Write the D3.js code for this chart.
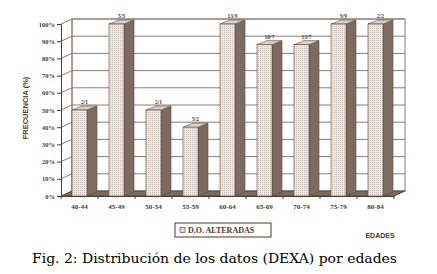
<!DOCTYPE html>
<html>
<head>
<meta charset="utf-8">
<script src="https://cdn.jsdelivr.net/npm/d3@7"></script>
<style>
  body { margin: 0; background: #fff; }
  svg { display: block; }
</style>
</head>
<body>
<div id="container"></div>
<script>
/* CONSTANTS AND GLOBALS */
const width = 437;
const height = 274;

// data
const categories = ["40-44", "45-49", "50-54", "55-59", "60-64", "65-69", "70-74", "75-79", "80-84"];
const values = [50, 100, 50, 40, 100, 88, 88, 100, 100];
const barLabels = ["2/1", "5/5", "2/1", "5/2", "13/9", "10/7", "13/7", "9/9", "2/2"];
const yTicks = [0, 10, 20, 30, 40, 50, 60, 70, 80, 90, 100];

// 3d depth offset of the back wall
const dx = 11, dy = -5;
const ink = "#4a3a32";
const gridCol = "#8c7c72";

const svg = d3.select("#container")
    .append("svg")
    .attr("width", width)
    .attr("height", height)

// dotted pattern for the front of the bars
const defs = svg.append("defs")
const pat = defs.append("pattern")
    .attr("id", "dots")
    .attr("width", 2)
    .attr("height", 2)
    .attr("patternUnits", "userSpaceOnUse")
pat.append("rect").attr("width", 2).attr("height", 2).attr("fill", "#ebe7e4")
pat.append("rect").attr("width", 1).attr("height", 1).attr("fill", "#c9c0ba")

/* SCALES */
const xScale = d3.scaleBand()
    .domain(categories)
    .range([61, 394])

const yScale = d3.scaleLinear()
    .domain([0, 100])
    .range([196, 24])

const x0 = xScale.range()[0], x1 = xScale.range()[1];

// back wall
svg.append("rect")
    .attr("x", x0 + dx)
    .attr("y", yScale(100) + dy)
    .attr("width", x1 - x0)
    .attr("height", yScale(0) - yScale(100))
    .attr("fill", "#fff")
    .attr("stroke", gridCol)

// floor (dark, like the reference)
svg.append("path")
    .attr("d", `M${x0},${yScale(0)} L${x1},${yScale(0)} L${x1 + dx},${yScale(0) + dy} L${x0 + dx},${yScale(0) + dy} Z`)
    .attr("fill", "#7d6a60")
    .attr("stroke", "#5a4840")

// gridlines on back wall and side wall
const grid = svg.append("g")
grid.selectAll(".gback")
    .data(yTicks.slice(1))
    .join("line")
    .attr("x1", x0 + dx).attr("x2", x1 + dx)
    .attr("y1", d => yScale(d) + dy).attr("y2", d => yScale(d) + dy)
    .attr("stroke", gridCol).attr("stroke-width", 1)
grid.selectAll(".gside")
    .data(yTicks.slice(1))
    .join("line")
    .attr("x1", x0).attr("x2", x0 + dx)
    .attr("y1", d => yScale(d)).attr("y2", d => yScale(d) + dy)
    .attr("stroke", gridCol).attr("stroke-width", 1)
svg.append("line")
    .attr("x1", x0 + dx).attr("x2", x0 + dx)
    .attr("y1", yScale(0) + dy).attr("y2", yScale(100) + dy)
    .attr("stroke", gridCol)

/* AXES */
const yAxis = d3.axisLeft(yScale)
    .tickValues(yTicks)
    .tickSize(4)
    .tickPadding(2)
    .tickFormat(d => d + "%")
const gy = svg.append("g")
    .attr("transform", `translate(${x0},0)`)
    .call(yAxis)
gy.select(".domain").attr("stroke", ink)
gy.selectAll(".tick line").attr("stroke", ink)
gy.selectAll("text")
    .attr("fill", ink)
    .style("font-family", "'Liberation Serif', serif")
    .style("font-weight", "bold")
    .style("font-size", "6.5px")

const xAxis = d3.axisBottom(xScale)
    .tickSize(0)
    .tickPadding(8)
const gx = svg.append("g")
    .attr("transform", `translate(0,${yScale(0)})`)
    .call(xAxis)
gx.select(".domain").attr("stroke", ink)
gx.selectAll("text")
    .attr("fill", ink)
    .style("font-family", "'Liberation Serif', serif")
    .style("font-weight", "bold")
    .style("font-size", "7px")
// small ticks between categories
svg.selectAll(".ctick")
    .data(categories.concat(["end"]))
    .join("line")
    .attr("x1", (d, i) => x0 + i * xScale.step())
    .attr("x2", (d, i) => x0 + i * xScale.step())
    .attr("y1", yScale(0)).attr("y2", yScale(0) + 3)
    .attr("stroke", ink)

/* BARS */
const bw = 15, bdx = 10, bdy = -4;
const bars = svg.append("g")
    .selectAll("g")
    .data(values)
    .join("g")

const bx = (d, i) => xScale(categories[i]) + xScale.bandwidth() / 2 - bw / 2;

// side face
bars.append("path")
    .attr("d", (d, i) => {
        const x = bx(d, i) + bw, yt = yScale(d), yb = yScale(0)
        return `M${x},${yb} L${x + bdx},${yb + bdy} L${x + bdx},${yt + bdy} L${x},${yt} Z`
    })
    .attr("fill", "#7d6a60")
    .attr("stroke", "#5a4840")
    .attr("stroke-width", 0.6)
// top face
bars.append("path")
    .attr("d", (d, i) => {
        const x = bx(d, i), yt = yScale(d)
        return `M${x},${yt} L${x + bw},${yt} L${x + bw + bdx},${yt + bdy} L${x + bdx},${yt + bdy} Z`
    })
    .attr("fill", "#d9d3cf")
    .attr("stroke", "#5a4840")
    .attr("stroke-width", 0.6)
// front face
bars.append("rect")
    .attr("x", bx)
    .attr("y", d => yScale(d))
    .attr("width", bw)
    .attr("height", d => yScale(0) - yScale(d))
    .attr("fill", "url(#dots)")
    .attr("stroke", "#5a4840")
    .attr("stroke-width", 0.6)

// value labels
svg.selectAll(".blabel")
    .data(values)
    .join("text")
    .attr("x", (d, i) => bx(d, i) + bw / 2 + bdx / 2)
    .attr("y", d => yScale(d) + bdy - 2)
    .attr("text-anchor", "middle")
    .attr("fill", ink)
    .style("font-family", "'Liberation Serif', serif")
    .style("font-weight", "bold")
    .style("font-size", "5.5px")
    .text((d, i) => barLabels[i])

// AXIS TITLES
svg.append("text")
    .attr("transform", "translate(28,108) rotate(-90)")
    .attr("text-anchor", "middle")
    .attr("fill", ink)
    .style("font-family", "'Liberation Sans', Arial, sans-serif")
    .style("font-weight", "bold")
    .style("font-size", "7.5px")
    .text("FRECUENCIA (%)")

svg.append("text")
    .attr("x", 380)
    .attr("y", 238)
    .attr("text-anchor", "middle")
    .attr("fill", ink)
    .style("font-family", "'Liberation Sans', Arial, sans-serif")
    .style("font-weight", "bold")
    .style("font-size", "7px")
    .text("EDADES")

// LEGEND
const lg = svg.append("g").attr("transform", "translate(175,223)")
lg.append("rect")
    .attr("width", 96).attr("height", 14)
    .attr("fill", "#fff")
    .attr("stroke", ink)
lg.append("rect")
    .attr("x", 5).attr("y", 4.5).attr("width", 5).attr("height", 5)
    .attr("fill", "url(#dots)")
    .attr("stroke", ink).attr("stroke-width", 0.6)
lg.append("text")
    .attr("x", 13).attr("y", 10)
    .attr("fill", ink)
    .style("font-family", "'Liberation Serif', serif")
    .style("font-weight", "bold")
    .style("font-size", "8px")
    .text("D.O. ALTERADAS")

// CAPTION
svg.append("text")
    .attr("x", 32)
    .attr("y", 263)
    .attr("fill", "#000")
    .style("font-family", "'DejaVu Serif', serif")
    .style("font-size", "12.5px")
    .attr("textLength", 365)
    .attr("lengthAdjust", "spacingAndGlyphs")
    .text("Fig. 2: Distribución de los datos (DEXA) por edades")
</script>
</body>
</html>
